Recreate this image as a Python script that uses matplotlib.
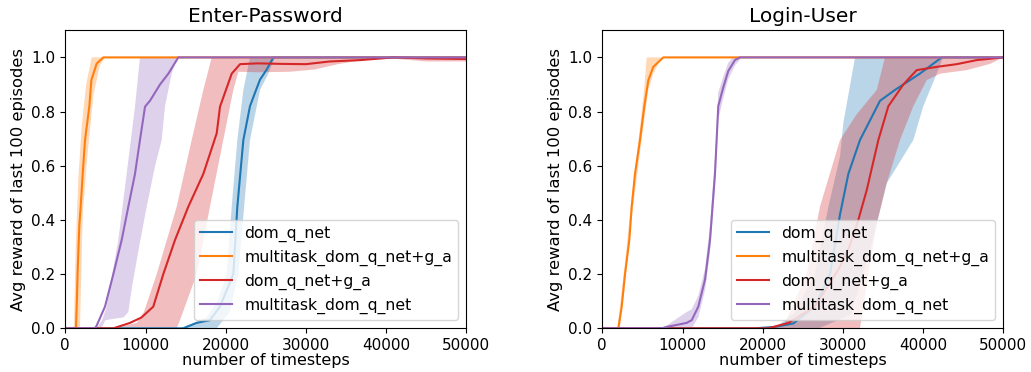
import matplotlib
matplotlib.use("Agg")
import matplotlib.pyplot as plt
import numpy as np

titles = ["Enter-Password", "Login-User"]
labels = ["dom_q_net", "multitask_dom_q_net+g_a", "dom_q_net+g_a", "multitask_dom_q_net"]
colors = ["#1f77b4", "#ff7f0e", "#d62728", "#9467bd"]

# ---------------- Enter-Password ----------------
# dom_q_net
ep_dqn_x = [0, 14300, 14720, 16380, 18040, 19290, 20950, 21450, 22200, 23030, 23660, 24280, 25110, 25940, 50000]
ep_dqn_y = [0, 0, 0.0, 0.02, 0.03, 0.08, 0.2, 0.449, 0.695, 0.82, 0.87, 0.918, 0.955, 1.0, 1.0]
ep_dqn_hi_x = [0, 14300, 16000, 17630, 19000, 20120, 20750, 21450, 22200, 23030, 50000]
ep_dqn_hi_y = [0, 0, 0.02, 0.04, 0.1, 0.2, 0.449, 0.695, 0.88, 1.0, 1.0]
ep_dqn_lo_x = [0, 18880, 20500, 21580, 22300, 23030, 24280, 25320, 26150, 50000]
ep_dqn_lo_y = [0, 0, 0.06, 0.2, 0.45, 0.695, 0.88, 0.94, 1.0, 1.0]

# multitask_dom_q_net+g_a
ep_mga_x = [0, 1330, 1420, 1550, 1750, 1920, 2170, 2460, 3000, 3250, 3910, 4740, 50000]
ep_mga_y = [0, 0, 0.08, 0.22, 0.38, 0.45, 0.57, 0.695, 0.82, 0.916, 0.977, 1.0, 1.0]
ep_mga_hi_x = [0, 1000, 1085, 1300, 1620, 2040, 2600, 3290, 50000]
ep_mga_hi_y = [0, 0, 0.02, 0.3, 0.55, 0.744, 0.9, 1.0, 1.0]
ep_mga_lo_x = [0, 1830, 2170, 2700, 3500, 4300, 5000, 50000]
ep_mga_lo_y = [0, 0, 0.42, 0.62, 0.86, 0.97, 1.0, 1.0]

# dom_q_net+g_a
ep_dga_x = [0, 6000, 8070, 9500, 10970, 12220, 13680, 15340, 17210, 18880, 19290, 20750, 21790,
            24000, 27000, 30000, 33000, 36800, 40900, 45100, 50000]
ep_dga_y = [0, 0.0, 0.02, 0.04, 0.08, 0.2, 0.326, 0.449, 0.57, 0.72, 0.818, 0.94, 0.975,
            0.978, 0.976, 0.975, 0.985, 0.99, 1.0, 0.996, 0.994]
ep_dga_hi_x = [0, 6000, 8900, 9800, 11400, 13890, 15760, 17210, 18260, 50000]
ep_dga_hi_y = [0, 0.0, 0.02, 0.06, 0.2, 0.449, 0.695, 0.88, 1.0, 1.0]
ep_dga_lo_x = [0, 13890, 14300, 16380, 18040, 19700, 20950, 21580, 24000, 28000, 31000, 34000, 37000, 41000, 45000, 50000]
ep_dga_lo_y = [0, 0, 0.03, 0.2, 0.449, 0.695, 0.88, 0.947, 0.945, 0.947, 0.955, 0.975, 0.99, 0.995, 0.985, 0.985]

# multitask_dom_q_net
ep_mdq_x = [0, 3700, 3910, 4950, 5990, 7030, 7860, 8690, 9310, 9940, 10560, 11810, 12850, 14090, 50000]
ep_mdq_y = [0, 0, 0.01, 0.08, 0.2, 0.326, 0.449, 0.57, 0.695, 0.818, 0.84, 0.90, 0.94, 1.0, 1.0]
ep_mdq_hi_x = [0, 3900, 4600, 5160, 6610, 7650, 8690, 9310, 50000]
ep_mdq_hi_y = [0, 0, 0.03, 0.08, 0.326, 0.57, 0.818, 1.0, 1.0]
ep_mdq_lo_x = [0, 4500, 5000, 6000, 7240, 7860, 8300, 9200, 10150, 11200, 12020, 12430, 13270, 13970, 50000]
ep_mdq_lo_y = [0, 0, 0.03, 0.035, 0.04, 0.06, 0.15, 0.3, 0.449, 0.6, 0.695, 0.82, 0.94, 1.0, 1.0]

# ---------------- Login-User ----------------
lu_dqn_x = [0, 19000, 21500, 23820, 26500, 28390, 29640, 30680, 32130, 34630, 36500, 39600, 42320, 50000]
lu_dqn_y = [0, 0, 0.005, 0.018, 0.08, 0.20, 0.42, 0.57, 0.695, 0.84, 0.88, 0.94, 1.0, 1.0]
lu_dqn_hi_x = [0, 21500, 24000, 26500, 28200, 29640, 30050, 31510, 50000]
lu_dqn_hi_y = [0, 0, 0.06, 0.2, 0.45, 0.634, 0.757, 1.0, 1.0]
lu_dqn_lo_x = [0, 27000, 31000, 33500, 35460, 38780, 40030, 41700, 42500, 50000]
lu_dqn_lo_y = [0, 0, 0.05, 0.3, 0.535, 0.695, 0.82, 0.94, 1.0, 1.0]

lu_mga_x = [0, 2000, 2420, 2830, 3370, 3670, 4080, 4700, 5240, 5740, 6360, 7610, 50000]
lu_mga_y = [0, 0, 0.08, 0.2, 0.326, 0.449, 0.57, 0.695, 0.82, 0.916, 0.965, 1.0, 1.0]
lu_mga_hi_x = [0, 1900, 2000, 2830, 3670, 4700, 5240, 5540, 50000]
lu_mga_hi_y = [0, 0, 0.03, 0.24, 0.49, 0.74, 0.89, 1.0, 1.0]
lu_mga_lo_x = [0, 2200, 2830, 3670, 4700, 5240, 5740, 6360, 7200, 7610, 50000]
lu_mga_lo_y = [0, 0, 0.16, 0.41, 0.65, 0.77, 0.88, 0.94, 0.99, 1.0, 1.0]

lu_dga_x = [0, 20700, 23200, 26500, 28000, 29500, 30800, 31920, 32970, 34420, 35670, 37540, 39200,
            41700, 44190, 46690, 50000]
lu_dga_y = [0, 0, 0.02, 0.08, 0.15, 0.22, 0.30, 0.40, 0.51, 0.695, 0.82, 0.90, 0.953,
            0.965, 0.975, 0.99, 1.0]
lu_dga_hi_x = [0, 21500, 22780, 25490, 27150, 29640, 31720, 34220, 35250, 50000]
lu_dga_hi_y = [0, 0, 0.02, 0.2, 0.45, 0.695, 0.79, 0.88, 1.0, 1.0]
lu_dga_lo_x = [0, 32130, 33170, 34220, 35460, 37120, 38780, 40450, 42110, 45440, 48350, 50000]
lu_dga_lo_y = [0, 0.0, 0.2, 0.385, 0.535, 0.695, 0.82, 0.916, 0.94, 0.953, 0.976, 1.0]

lu_mdq_x = [0, 7400, 8030, 10520, 11150, 11970, 12810, 13430, 14050, 14460, 15090, 15710, 16540, 17160, 50000]
lu_mdq_y = [0, 0, 0.005, 0.02, 0.03, 0.08, 0.18, 0.326, 0.57, 0.82, 0.89, 0.95, 0.99, 1.0, 1.0]
lu_mdq_hi_x = [0, 7400, 8030, 9500, 10520, 11150, 11970, 12810, 13430, 14050, 14460, 15090, 15710, 16300, 50000]
lu_mdq_hi_y = [0, 0, 0.01, 0.04, 0.06, 0.07, 0.12, 0.22, 0.38, 0.63, 0.87, 0.93, 0.98, 1.0, 1.0]
lu_mdq_lo_x = [0, 10520, 11150, 11970, 12810, 13430, 14050, 14460, 15090, 15710, 16540, 17400, 50000]
lu_mdq_lo_y = [0, 0, 0.0, 0.04, 0.14, 0.28, 0.52, 0.77, 0.85, 0.92, 0.97, 1.0, 1.0]

panels = [
    [(ep_dqn_x, ep_dqn_y, ep_dqn_hi_x, ep_dqn_hi_y, ep_dqn_lo_x, ep_dqn_lo_y),
     (ep_mga_x, ep_mga_y, ep_mga_hi_x, ep_mga_hi_y, ep_mga_lo_x, ep_mga_lo_y),
     (ep_dga_x, ep_dga_y, ep_dga_hi_x, ep_dga_hi_y, ep_dga_lo_x, ep_dga_lo_y),
     (ep_mdq_x, ep_mdq_y, ep_mdq_hi_x, ep_mdq_hi_y, ep_mdq_lo_x, ep_mdq_lo_y)],
    [(lu_dqn_x, lu_dqn_y, lu_dqn_hi_x, lu_dqn_hi_y, lu_dqn_lo_x, lu_dqn_lo_y),
     (lu_mga_x, lu_mga_y, lu_mga_hi_x, lu_mga_hi_y, lu_mga_lo_x, lu_mga_lo_y),
     (lu_dga_x, lu_dga_y, lu_dga_hi_x, lu_dga_hi_y, lu_dga_lo_x, lu_dga_lo_y),
     (lu_mdq_x, lu_mdq_y, lu_mdq_hi_x, lu_mdq_hi_y, lu_mdq_lo_x, lu_mdq_lo_y)],
]

x_ticks = [0, 10000, 20000, 30000, 40000, 50000]
y_ticks = [0.0, 0.2, 0.4, 0.6, 0.8, 1.0]

fig = plt.figure(figsize=(10.31, 3.72), dpi=100)
W, H = 1031, 372
lefts = [65.3, 602.3]
for i, left in enumerate(lefts):
    ax = fig.add_axes([left / W, (H - 328.3) / H, 401 / W, 298 / H])
    for (x, y, hx, hy, lx, ly), c, lab in zip(panels[i], colors, labels):
        px = list(hx) + list(lx)[::-1]
        py = list(hy) + list(ly)[::-1]
        ax.fill(px, py, color=c, alpha=0.3, lw=0)
    for (x, y, hx, hy, lx, ly), c, lab in zip(panels[i], colors, labels):
        ax.plot(x, y, color=c, lw=1.5, label=lab)
    ax.set_xlim(0, 50000)
    ax.set_ylim(0, 1.1)
    ax.set_xticks(x_ticks)
    ax.set_yticks(y_ticks)
    ax.tick_params(labelsize=11)
    ax.set_title(titles[i], fontsize=14.5)
    ax.set_xlabel("number of timesteps", fontsize=11.5, labelpad=0)
    ax.set_ylabel("Avg reward of last 100 episodes", fontsize=11.8)
    ax.legend(loc="lower right", fontsize=11.3)

fig.savefig("out.png", dpi=100)
